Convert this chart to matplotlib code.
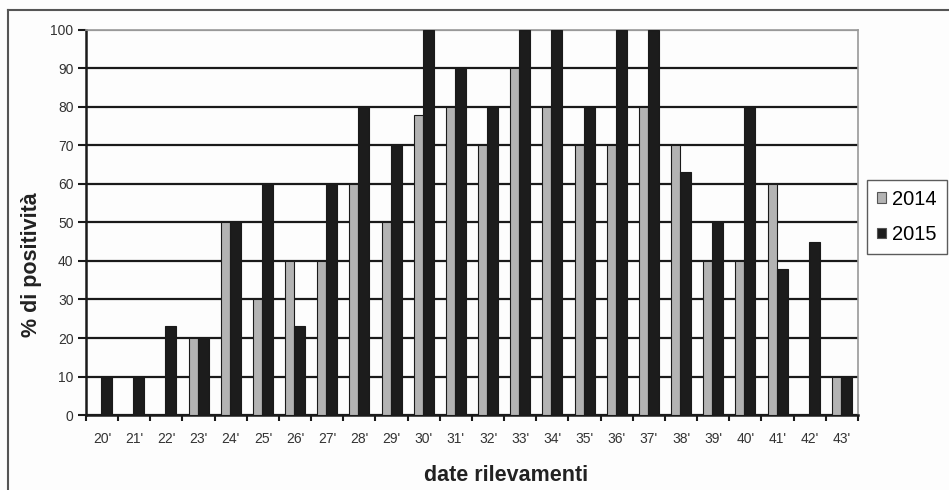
import numpy as np
import matplotlib.pyplot as plt
from matplotlib.lines import Line2D

categories = ["20'", "21'", "22'", "23'", "24'", "25'", "26'", "27'", "28'", "29'", "30'", "31'",
              "32'", "33'", "34'", "35'", "36'", "37'", "38'", "39'", "40'", "41'", "42'", "43'"]
vals_2014 = [0, 0, 0, 20, 50, 30, 40, 40, 60, 50, 78, 80, 70, 90, 80, 70, 70, 80, 70, 40, 40, 60, 0, 10]
vals_2015 = [10, 10, 23, 20, 50, 60, 23, 60, 80, 70, 100, 90, 80, 100, 100, 80, 100, 100, 63, 50, 80, 38, 45, 10]

plt.rcParams['font.family'] = ['Liberation Sans', 'DejaVu Sans']

W, H = 949, 490
fig = plt.figure(figsize=(W / 100, H / 100), dpi=100)
fig.patch.set_facecolor('#fdfdfd')
ax = fig.add_axes([0.0906, 0.153, 0.8135, 0.786])
ax.set_facecolor('#fdfdfd')

x = np.arange(len(categories))
ax.set_axisbelow(True)
ax.yaxis.grid(True, color='#1a1a1a', linewidth=1.6)
ax.bar(x - 0.17, vals_2014, width=0.28, color='#b3b3b3', edgecolor='#1a1a1a', linewidth=0.8, label='2014', zorder=3)
ax.bar(x + 0.14, vals_2015, width=0.34, color='#1c1c1c', edgecolor='#1a1a1a', linewidth=0.8, label='2015', zorder=3)

ax.set_xlim(-0.5, len(categories) - 0.5)
ax.set_ylim(0, 100)
ax.set_yticks(np.arange(0, 101, 10))
ax.set_xticks(x)
ax.set_xticklabels(categories, fontsize=10, color='#333333')
ax.set_xticks(np.arange(-0.5, len(categories), 1), minor=True)
ax.tick_params(axis='x', which='major', length=0, pad=12)
ax.tick_params(axis='x', which='minor', length=4, width=1.5, color='#1a1a1a', direction='out')
ax.tick_params(axis='y', length=6, width=1.5, color='#1a1a1a', labelsize=10, labelcolor='#333333', pad=3)
ax.get_ygridlines()[-1].set_color('#999999')

for s in ['left', 'bottom']:
    ax.spines[s].set_linewidth(1.8)
    ax.spines[s].set_color('#1a1a1a')
ax.spines['top'].set_color('#999999')
ax.spines['right'].set_color('#999999')
ax.spines['top'].set_linewidth(1.2)
ax.spines['right'].set_linewidth(1.2)

# axis titles, placed like in the original chart (centred on the whole chart area)
fig.text(506 / W, 1 - 475 / H, 'date rilevamenti', fontsize=15.5, fontweight='bold',
         color='#222222', ha='center', va='center')
fig.text(32 / W, 1 - 265 / H, '% di positività', fontsize=15.5, fontweight='bold',
         color='#222222', ha='center', va='center', rotation=90)

leg = ax.legend(loc='center left', bbox_to_anchor=(1.0117, 0.514), fontsize=14.5, frameon=True,
                fancybox=False, edgecolor='#333333', handlelength=0.45, handleheight=0.45,
                handletextpad=0.3, borderpad=0.5, labelspacing=0.8, borderaxespad=0)
leg.get_frame().set_linewidth(1.0)
for h in leg.legend_handles:
    h.set_edgecolor('#555555')

# outer frame of the picture
fig.add_artist(Line2D([0.008, 0.008], [0.0, 0.98], color='#555555', linewidth=1.5, transform=fig.transFigure))
fig.add_artist(Line2D([0.008, 1.0], [0.98, 0.98], color='#555555', linewidth=1.5, transform=fig.transFigure))

fig.savefig('out.png', dpi=100, facecolor=fig.get_facecolor())
